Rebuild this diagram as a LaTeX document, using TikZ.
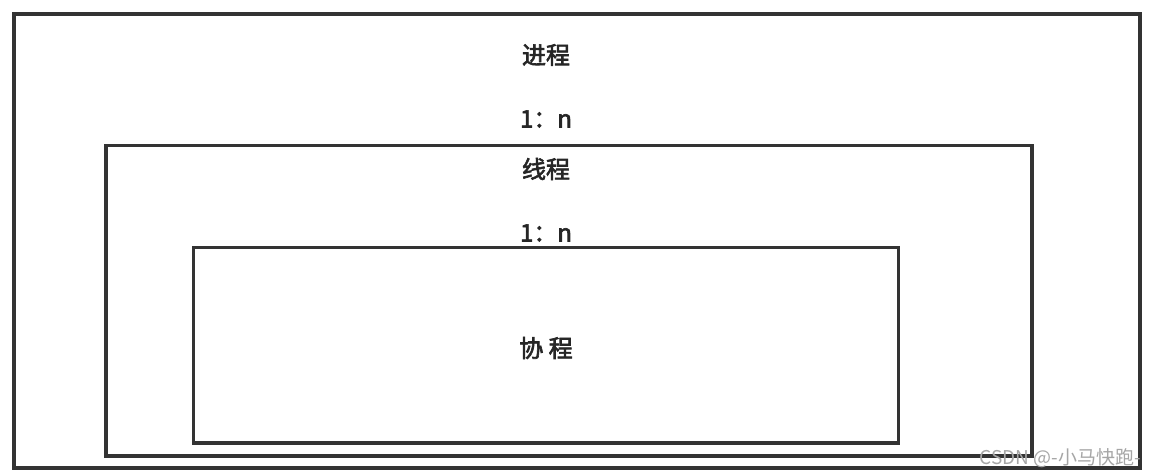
\documentclass[tikz,border=0pt]{standalone}
\usepackage{fontspec}
\setmainfont{Noto Sans CJK SC}
\newfontfamily\lblfont[FakeBold=2.6]{Noto Sans CJK SC}
\newfontfamily\wmfont{Noto Sans CJK SC}
\tikzset{
  box/.style={draw=black!80, line width=3.5pt},
  lbl/.style={font=\lblfont\fontsize{24}{28}\selectfont, text=black!85, inner sep=0pt},
  wm/.style={font=\wmfont\fontsize{19}{21}\selectfont, text=black!35, inner sep=0pt, anchor=east}
}
\begin{document}
\begin{tikzpicture}[x=1pt,y=-1pt]
\useasboundingbox (0,0) rectangle (1154,476);
\node[box, minimum width=1126pt, minimum height=454pt, inner sep=0pt] (outer) at (577,241) {};
\node[box, minimum width=926pt, minimum height=310.5pt, inner sep=0pt] (middle) at (569,300.75) {};
\node[box, minimum width=705pt, minimum height=195.5pt, inner sep=0pt] (inner) at (545.75,345.25) {};
\node[lbl] (proc) at (546,55) {进程};
\node[lbl] (r1) at (546,119) {1：n};
\node[lbl] (thr) at (546,169) {线程};
\node[lbl] (r2) at (546,233) {1：n};
\node[lbl] (co) at (546,348) {协 程};
\node[wm] (mark) at (1141,458) {CSDN @-小马快跑-};
\end{tikzpicture}
\end{document}
